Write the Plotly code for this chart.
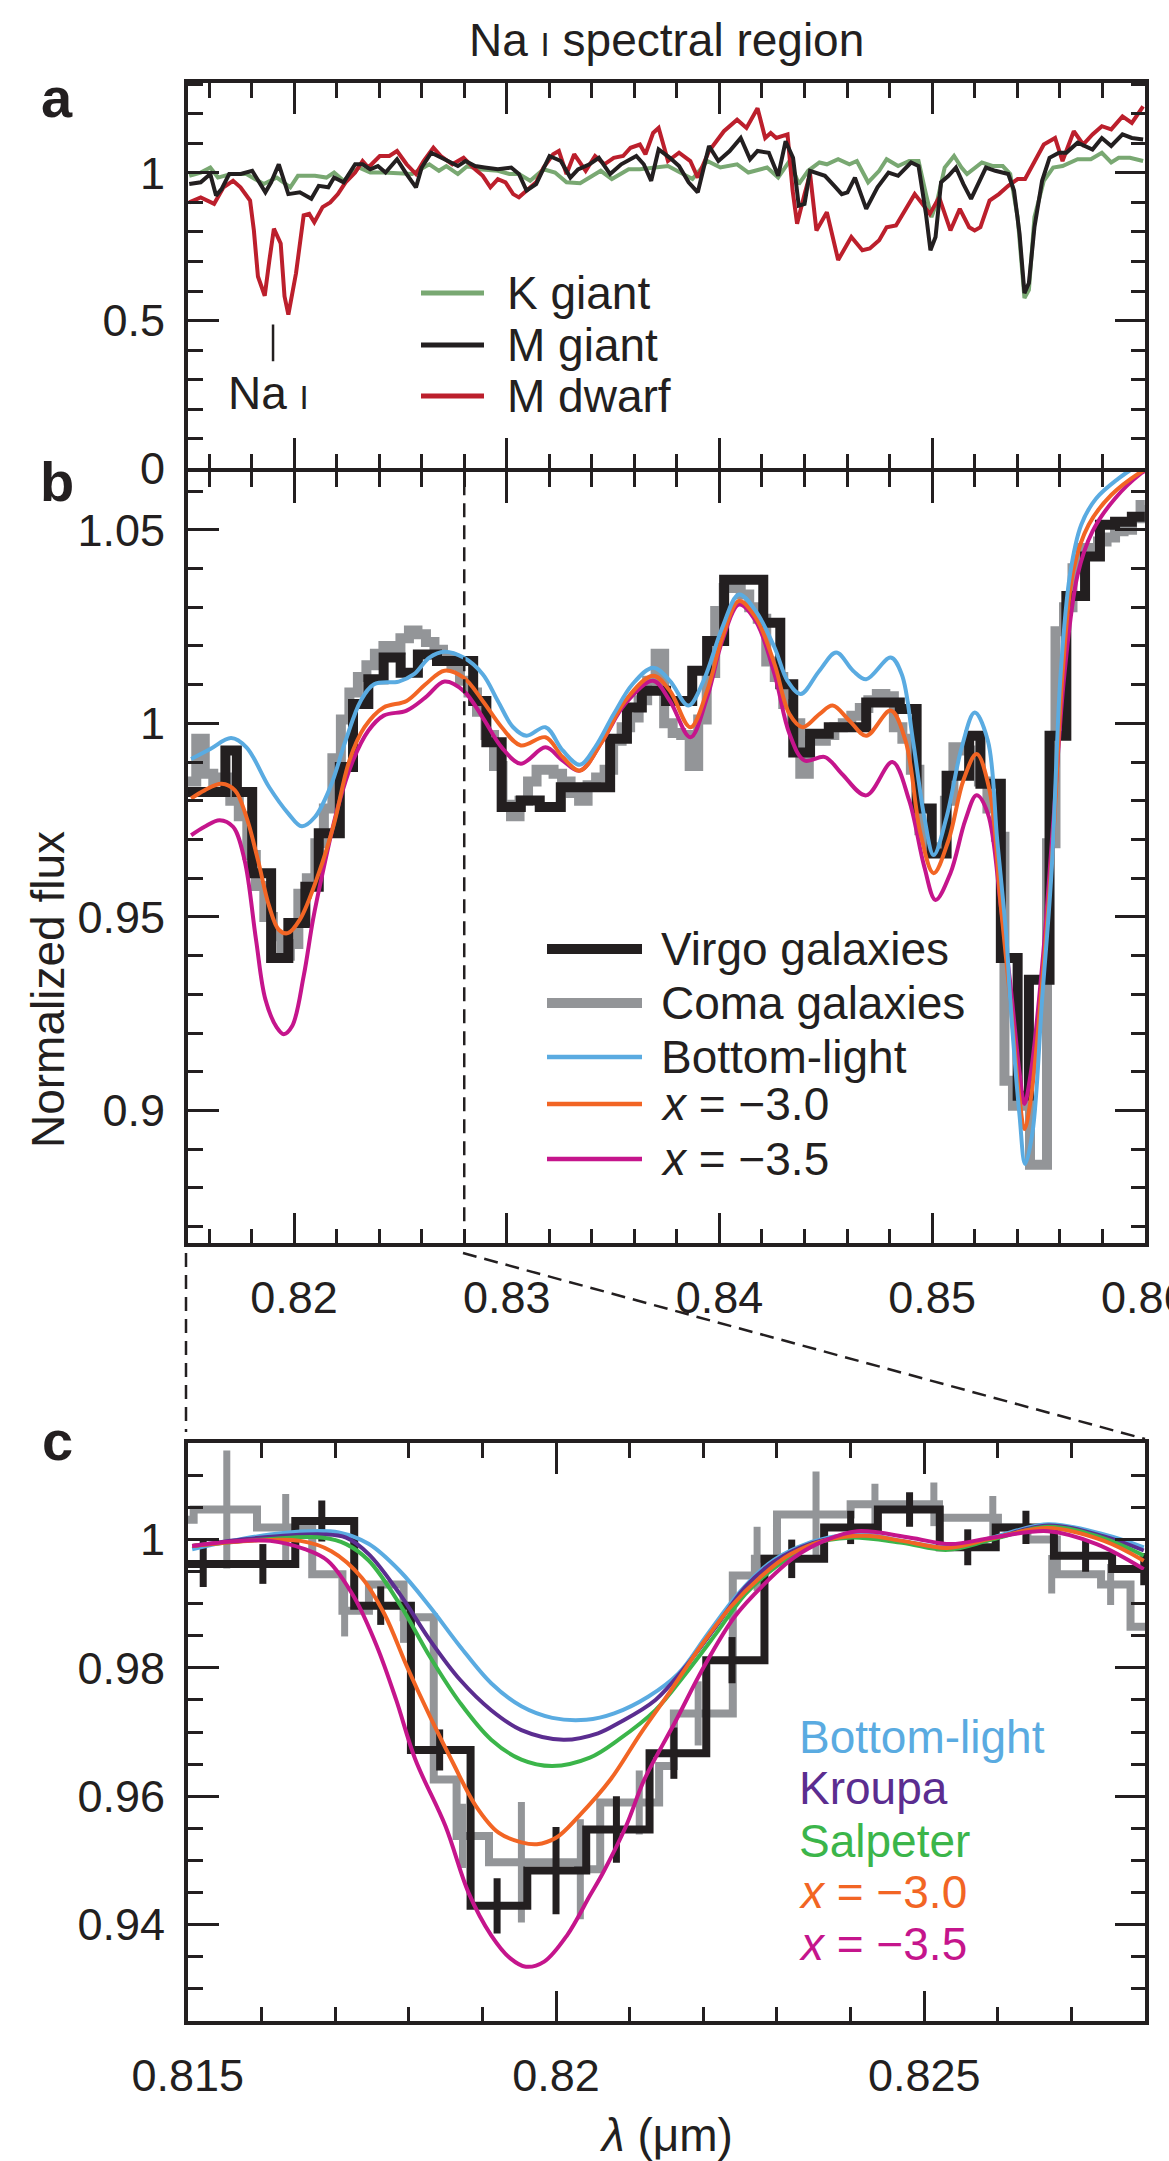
import plotly.graph_objects as go

W, H = 1169, 2161
FONT = "Liberation Sans, Arial, Helvetica, sans-serif"
INK = "#231f20"
C_KGIANT = "#79a872"
C_MDWARF = "#bc1f2c"
C_COMA = "#939598"
C_BL = "#5aabe1"
C_X30 = "#f26524"
C_X35 = "#c5158c"
C_KROUPA = "#5b2d90"
C_SALP = "#3bb54a"

# ---------------- Panel a : stellar spectra (wavelength um, normalized flux)
K_GIANT = [(0.81507,0.990),(0.81561,1.001),(0.81606,1.018),(0.81642,0.984),(0.81704,0.996),(0.81776,0.996),
    (0.81857,0.962),(0.81919,0.984),(0.81982,0.951),(0.82018,0.990),(0.82098,0.990),(0.82152,0.984),(0.82188,1.001),
    (0.82233,0.973),(0.82304,1.018),(0.82358,1.001),(0.82421,1.001),(0.82555,0.996),(0.82636,1.029),(0.82681,1.007),
    (0.82716,1.023),(0.8277,0.996),(0.82815,1.023),(0.82869,1.012),(0.82958,1.007),(0.83012,0.996),(0.83057,0.996),
    (0.8311,0.973),(0.83173,1.012),(0.83227,1.001),(0.83281,0.968),(0.83345,0.965),(0.83442,1.007),(0.83494,0.979),
    (0.83573,1.012),(0.83626,1.012),(0.83758,1.023),(0.83802,1.007),(0.83873,0.979),(0.83943,1.040),(0.84004,1.018),
    (0.84083,1.029),(0.84136,1.001),(0.84224,1.018),(0.84276,0.984),(0.84329,1.040),(0.84373,0.962),(0.84417,1.007),
    (0.8447,1.035),(0.84505,1.029),(0.84558,1.046),(0.84611,1.029),(0.84646,1.040),(0.84699,0.968),(0.84751,1.007),
    (0.84786,1.046),(0.8484,1.023),(0.84892,1.040),(0.84936,1.040),(0.84971,0.928),(0.84997,0.850),(0.85024,0.906),
    (0.85059,1.018),(0.85103,1.057),(0.85138,1.018),(0.85164,0.996),(0.85234,1.035),(0.85287,1.023),(0.85332,1.023),
    (0.85367,0.996),(0.85402,0.850),(0.85434,0.576),(0.85455,0.604),(0.85481,0.850),(0.85525,0.973),(0.85569,1.018),
    (0.85613,1.023),(0.85684,1.046),(0.85746,1.046),(0.85798,1.068),(0.85842,1.035),(0.85877,1.051),(0.8593,1.051),
    (0.85992,1.040)]

M_GIANT = [(0.81507,0.962),(0.81561,0.968),(0.81606,0.996),(0.81633,0.923),(0.81659,0.945),(0.81695,0.996),
    (0.81749,0.996),(0.81803,1.007),(0.81865,0.934),(0.81892,0.968),(0.81928,1.029),(0.81973,0.928),(0.82027,0.934),
    (0.82081,0.912),(0.82116,0.956),(0.82161,0.951),(0.82188,0.984),(0.82233,0.968),(0.82287,1.029),(0.82322,1.029),
    (0.82358,1.012),(0.82394,1.023),(0.8243,1.001),(0.82484,1.046),(0.82529,0.996),(0.82573,0.951),(0.826,1.018),
    (0.82645,1.068),(0.82707,1.046),(0.8277,1.023),(0.82806,1.040),(0.82851,1.023),(0.82896,1.018),(0.82958,1.012),
    (0.83021,1.018),(0.83057,0.996),(0.83093,0.940),(0.83138,0.962),(0.83201,1.057),(0.83254,1.040),(0.83299,0.984),
    (0.83335,1.012),(0.83389,1.029),(0.83433,1.051),(0.83486,0.996),(0.83538,1.029),(0.83609,1.057),(0.83644,1.029),
    (0.83679,0.973),(0.83714,1.079),(0.83767,1.051),(0.8381,1.023),(0.83855,0.968),(0.83898,0.934),(0.83951,1.091),
    (0.83995,1.040),(0.84048,1.074),(0.841,1.118),(0.84144,1.046),(0.84179,1.074),(0.84232,1.068),(0.84276,0.990),
    (0.84311,1.107),(0.84346,1.051),(0.84373,0.889),(0.844,0.895),(0.84426,1.007),(0.84496,0.990),(0.8454,0.956),
    (0.84575,0.928),(0.84602,0.934),(0.84637,0.984),(0.8469,0.878),(0.84743,0.951),(0.84795,1.001),(0.8484,0.990),
    (0.84901,1.035),(0.84936,1.023),(0.84971,0.861),(0.84992,0.738),(0.85016,0.783),(0.85042,0.968),(0.85077,0.990),
    (0.85112,1.018),(0.85147,0.962),(0.85183,0.912),(0.85253,1.018),(0.85297,1.007),(0.85358,0.996),(0.85385,0.940),
    (0.85411,0.794),(0.85434,0.593),(0.85455,0.627),(0.85481,0.816),(0.85517,0.973),(0.85552,1.051),(0.85596,1.068),
    (0.85631,1.068),(0.85684,1.102),(0.85754,1.079),(0.85798,1.118),(0.85842,1.091),(0.85895,1.130),(0.85939,1.118),
    (0.85992,1.113)]

M_DWARF = [(0.81507,0.900),(0.81561,0.917),(0.81624,0.895),(0.81668,0.951),(0.81713,0.973),(0.81748,0.951),
    (0.81793,0.906),(0.81811,0.805),(0.8183,0.649),(0.81862,0.584),(0.81884,0.705),(0.81905,0.811),(0.81937,0.761),
    (0.81955,0.582),(0.81973,0.520),(0.82009,0.660),(0.82045,0.856),(0.82071,0.861),(0.82095,0.833),(0.82134,0.884),
    (0.8217,0.900),(0.82206,0.928),(0.82242,0.968),(0.82287,1.001),(0.82322,1.040),(0.82349,1.018),(0.82403,1.057),
    (0.82448,1.057),(0.82484,1.074),(0.82529,1.029),(0.82573,0.996),(0.82609,1.040),(0.82655,1.085),(0.8269,1.057),
    (0.82744,1.029),(0.82797,1.051),(0.82851,1.012),(0.82887,0.990),(0.82923,0.951),(0.82958,0.979),(0.82994,0.968),
    (0.8303,0.928),(0.83057,0.917),(0.83093,0.940),(0.83138,0.968),(0.83173,1.018),(0.83218,1.063),(0.83245,1.074),
    (0.83281,0.996),(0.83317,1.063),(0.83352,1.029),(0.83371,1.007),(0.83415,1.057),(0.83459,1.029),(0.83503,1.051),
    (0.83547,1.057),(0.83582,1.085),(0.83626,1.096),(0.83652,1.063),(0.83688,1.135),(0.83714,1.152),(0.83758,1.040),
    (0.8381,1.068),(0.83863,1.040),(0.83898,0.984),(0.83951,1.074),(0.84021,1.141),(0.84083,1.180),(0.84127,1.152),
    (0.84179,1.219),(0.84215,1.118),(0.84241,1.135),(0.84267,1.118),(0.8432,1.130),(0.84344,0.940),(0.84365,0.828),
    (0.844,0.928),(0.84426,0.996),(0.84456,0.805),(0.84505,0.867),(0.84558,0.705),(0.8462,0.783),(0.84672,0.738),
    (0.84707,0.744),(0.84751,0.772),(0.84786,0.816),(0.8483,0.822),(0.84874,0.872),(0.84918,0.928),(0.84954,0.895),
    (0.84989,0.861),(0.85033,0.917),(0.85086,0.805),(0.8513,0.878),(0.85174,0.816),(0.852,0.805),(0.85227,0.816),
    (0.8527,0.906),(0.85314,0.928),(0.85358,0.956),(0.85402,0.979),(0.85437,0.979),(0.85481,1.040),(0.85525,1.096),
    (0.85578,1.118),(0.85613,1.040),(0.85666,1.141),(0.8571,1.096),(0.85754,1.130),(0.85798,1.158),(0.85842,1.147),
    (0.85895,1.191),(0.85939,1.169),(0.85992,1.225)]

# ---------------- Panel b : galaxy spectra (stairs: left bin edge, value) and models
B_RIGHT = 0.860
VIRGO_B = [(0.815,0.9823),(0.81677,0.9930),(0.81731,0.9823),(0.81803,0.9613),(0.81892,0.9394),(0.81973,0.9484),
    (0.82053,0.9578),(0.82116,0.9716),(0.82215,0.9887),(0.82277,1.0050),(0.82349,1.0114),(0.82421,1.0170),
    (0.82501,1.0131),(0.82582,1.0178),(0.82672,1.0161),(0.82842,1.0058),(0.82904,0.9951),(0.82976,0.9784),
    (0.83066,0.9801),(0.83155,0.9784),(0.83254,0.9835),(0.83486,0.9960),(0.83565,1.0041),(0.83635,1.0084),
    (0.83749,1.0058),(0.83872,1.0136),(0.83942,1.0213),(0.84022,1.0371),(0.84206,1.0260),(0.84286,1.0101),
    (0.84347,0.9925),(0.84426,0.9973),(0.84514,0.9990),(0.8469,1.0054),(0.84848,1.0037),(0.84927,0.9780),
    (0.84998,0.9664),(0.85068,0.9865),(0.85174,0.9968),(0.85227,0.9844),(0.85323,0.9394),(0.85402,0.9038),
    (0.85455,0.9338),(0.85552,0.9968),(0.85631,1.0329),(0.85719,1.0431),(0.85789,1.0513),(0.8586,1.0521),
    (0.85939,1.0534)]

COMA_B = [(0.8150,0.9850),(0.8154,0.9960),(0.8158,0.9870),(0.8162,0.9850),(0.8166,0.9860),(0.8170,0.9800),
    (0.8174,0.9760),(0.8178,0.9660),(0.8182,0.9580),(0.8186,0.9500),(0.8190,0.9450),(0.8194,0.9400),(0.8198,0.9430),
    (0.8202,0.9560),(0.8206,0.9600),(0.8210,0.9690),(0.8214,0.9780),(0.8218,0.9910),(0.8222,1.0010),(0.8226,1.0080),
    (0.8230,1.0120),(0.8234,1.0150),(0.8238,1.0180),(0.8242,1.0200),(0.8246,1.0190),(0.8250,1.0220),(0.8254,1.0240),
    (0.8258,1.0230),(0.8262,1.0210),(0.8266,1.0190),(0.8270,1.0170),(0.8274,1.0150),(0.8278,1.0110),(0.8282,1.0080),
    (0.8286,1.0030),(0.8290,0.9970),(0.8294,0.9890),(0.8298,0.9790),(0.8302,0.9760),(0.8306,0.9800),(0.8310,0.9850),
    (0.8314,0.9880),(0.8318,0.9880),(0.8322,0.9870),(0.8326,0.9850),(0.8330,0.9820),(0.8334,0.9800),(0.8338,0.9840),
    (0.8342,0.9860),(0.8346,0.9880),(0.8350,0.9955),(0.8354,0.9990),(0.8358,1.0015),(0.8362,1.0060),(0.8366,1.0110),
    (0.8370,1.0180),(0.8374,1.0000),(0.8378,0.9975),(0.8382,0.9970),(0.8386,0.9890),(0.8390,1.0010),(0.8394,1.0130),
    (0.8398,1.0290),(0.8402,1.0350),(0.8406,1.0350),(0.8410,1.0333),(0.8414,1.0300),(0.8418,1.0270),(0.8422,1.0160),
    (0.8426,1.0120),(0.8430,1.0050),(0.8434,1.0000),(0.8438,0.9870),(0.8442,0.9955),(0.8446,0.9955),(0.8450,0.9970),
    (0.8454,0.9990),(0.8458,1.0000),(0.8462,1.0020),(0.8466,1.0040),(0.8470,1.0060),(0.8474,1.0076),(0.8478,1.0070),
    (0.8482,0.9990),(0.8486,0.9960),(0.8490,0.9880),(0.8494,0.9724),(0.8498,0.9680),(0.8502,0.9670),(0.8506,0.9800),
    (0.8510,0.9938),(0.8514,0.9930),(0.8518,0.9900),(0.8522,0.9850),(0.8526,0.9780),(0.8530,0.9707),(0.8534,0.9077),
    (0.8538,0.9012),(0.8542,0.9012),(0.8546,0.8860),(0.8550,0.8860),(0.8554,0.9690),(0.8558,1.0238),(0.8562,1.0300),
    (0.8566,1.0401),(0.8570,1.0453),(0.8574,1.0440),(0.8578,1.0470),(0.8582,1.0480),(0.8586,1.0496),(0.8590,1.0500),
    (0.8594,1.0530),(0.8598,1.0564)]

BL_B = [(0.81516,0.9908),(0.81606,0.9934),(0.81704,0.9962),(0.81776,0.9938),(0.81883,0.9835),(0.81973,0.9767),
    (0.82036,0.9734),(0.82098,0.9758),(0.8217,0.9835),(0.82242,0.9955),(0.82313,1.0058),(0.82376,1.0101),(0.82492,1.0108),
    (0.82564,1.0127),(0.82636,1.0170),(0.82707,1.0185),(0.82797,1.0170),(0.82887,1.0127),(0.82958,1.0058),(0.8303,0.9990),
    (0.83093,0.9968),(0.83182,0.9990),(0.83263,0.9930),(0.83344,0.9893),(0.83415,0.9938),(0.83503,1.0024),(0.83591,1.0101),
    (0.83688,1.0144),(0.83767,1.0110),(0.83854,1.0046),(0.83925,1.0110),(0.84013,1.0247),(0.84092,1.0333),(0.84171,1.0290),
    (0.84259,1.0196),(0.8432,1.0110),(0.84382,1.0076),(0.8447,1.0136),(0.84549,1.0183),(0.84628,1.0136),(0.8469,1.0114),
    (0.84805,1.0170),(0.84857,1.0127),(0.8491,0.9955),(0.84963,0.9758),(0.85007,0.9660),(0.85068,0.9758),(0.85139,0.9938),
    (0.852,1.0028),(0.85262,0.9955),(0.85306,0.9698),(0.8535,0.9441),(0.85367,0.9287),(0.85411,0.8987),(0.85437,0.8862),
    (0.85472,0.8944),(0.85517,0.9287),(0.85561,0.9613),(0.85604,1.0127),(0.85648,1.0384),(0.85701,1.0513),(0.85771,1.0581),
    (0.85877,1.0633),(0.85947,1.0660),(0.86,1.0680)]

X30_B = [(0.81516,0.9806),(0.81579,0.9827),(0.81659,0.9844),(0.81722,0.9827),(0.81776,0.9758),(0.8183,0.9647),
    (0.81883,0.9527),(0.81928,0.9467),(0.8197,0.9458),(0.82027,0.9493),(0.82116,0.9613),(0.82188,0.9741),(0.8226,0.9904),
    (0.82331,0.9990),(0.82421,1.0041),(0.82529,1.0058),(0.82618,1.0101),(0.82707,1.0136),(0.82797,1.0118),(0.82887,1.0058),
    (0.82976,0.9990),(0.83066,0.9943),(0.83182,0.9964),(0.83263,0.9913),(0.83344,0.9878),(0.8345,0.9955),(0.83556,1.0058),
    (0.83688,1.0123),(0.83767,1.0084),(0.83863,0.9990),(0.83942,1.0084),(0.84013,1.0221),(0.84092,1.0316),(0.84171,1.0273),
    (0.84259,1.0153),(0.84329,1.0024),(0.84391,0.9990),(0.8447,1.0024),(0.84532,1.0046),(0.84611,1.0007),(0.8469,0.9968),
    (0.84805,1.0033),(0.84875,0.9955),(0.84945,0.9716),(0.85007,0.9613),(0.85077,0.9698),(0.85147,0.9853),(0.85209,0.9921),
    (0.8527,0.9827),(0.85323,0.9527),(0.85367,0.9287),(0.85411,0.9030),(0.85434,0.8952),(0.85464,0.9030),(0.85517,0.9330),
    (0.85569,0.9698),(0.85613,1.0127),(0.85666,1.0401),(0.85736,1.0513),(0.85842,1.0590),(0.85983,1.0650),(0.86,1.0655)]

X35_B = [(0.81516,0.9711),(0.81579,0.9733),(0.8165,0.9750),(0.81713,0.9733),(0.81767,0.9647),(0.81821,0.9441),
    (0.81865,0.9287),(0.81919,0.9214),(0.81951,0.9197),(0.81991,0.9218),(0.82045,0.9347),(0.82089,0.9493),(0.82134,0.9613),
    (0.82206,0.9784),(0.82277,0.9904),(0.82349,0.9981),(0.82421,1.0020),(0.82529,1.0033),(0.82618,1.0067),(0.82707,1.0108),
    (0.82797,1.0084),(0.82887,1.0015),(0.82976,0.9938),(0.83066,0.9896),(0.83182,0.9938),(0.83263,0.9904),(0.83344,0.9878),
    (0.8345,0.9955),(0.83556,1.0050),(0.83688,1.0110),(0.83767,1.0058),(0.83863,0.9964),(0.83942,1.0067),(0.84013,1.0213),
    (0.84092,1.0307),(0.84171,1.0264),(0.84259,1.0127),(0.84329,0.9973),(0.844,0.9904),(0.84496,0.9913),(0.84575,0.9870),
    (0.8469,0.9814),(0.84813,0.9900),(0.84892,0.9801),(0.84963,0.9630),(0.85016,0.9544),(0.85086,0.9613),(0.85156,0.9750),
    (0.85209,0.9814),(0.85262,0.9767),(0.85323,0.9527),(0.85367,0.9330),(0.85411,0.9098),(0.85434,0.9017),(0.85464,0.9098),
    (0.85517,0.9372),(0.85569,0.9741),(0.85622,1.0127),(0.85684,1.0384),(0.85754,1.0496),(0.8586,1.0581),(0.85983,1.0646),
    (0.86,1.0652)]

# ---------------- Panel c : zoom on the Na I doublet
C_RIGHT = 0.828
VIRGO_C = [(0.815,0.9962),(0.81566,0.9962),(0.81646,1.0029),(0.81726,0.9897),(0.81803,0.9672),(0.81884,0.9429),
    (0.81961,0.9484),(0.82041,0.9548),(0.82127,0.9667),(0.82204,0.9812),(0.82283,0.9970),(0.82364,1.0019),
    (0.82437,1.0047),(0.82521,0.9988),(0.82597,1.0019),(0.82676,0.9975),(0.82755,0.9954)]
VIRGO_C_ERR = [(0.81521,0.9962,0.0036),(0.81602,0.9962,0.0031),(0.81682,1.0029,0.0032),(0.81762,0.9897,0.0030),
    (0.81842,0.9672,0.0032),(0.8192,0.9429,0.0043),(0.82,0.9484,0.0068),(0.82082,0.9548,0.0052),(0.8216,0.9667,0.0040),
    (0.82239,0.9812,0.0036),(0.8232,0.9970,0.0030),(0.824,1.0019,0.0026),(0.8248,1.0047,0.0027),(0.82559,0.9988,0.0028),
    (0.82638,1.0019,0.0026),(0.82719,0.9975,0.0025),(0.82798,0.9954,0.0025)]
COMA_C = [(0.815,1.0031),(0.81508,1.0047),(0.81594,1.0019),(0.81669,0.9946),(0.8171,0.9889),(0.81746,0.9930),
    (0.81793,0.9879),(0.81834,0.9626),(0.81865,0.9538),(0.81909,0.9497),(0.82030,0.9486),(0.82060,0.9590),
    (0.82140,0.9647),(0.82160,0.9729),(0.82240,0.9944),(0.82270,0.9970),(0.82300,1.0039),(0.82400,1.0055),
    (0.82520,1.0034),(0.82600,1.0019),(0.82640,1.0000),(0.82680,0.9946),(0.82740,0.9930),(0.82780,0.9864)]
COMA_C_ERR = [(0.81553,1.0047,0.0092),(0.81633,1.0019,0.0052),(0.81713,0.9889,0.0040),(0.81793,0.9879,0.0040),
    (0.81873,0.9538,0.0050),(0.81953,0.9497,0.0094),(0.82033,0.9486,0.0078),(0.82113,0.9590,0.0050),
    (0.82193,0.9729,0.0050),(0.82273,0.9970,0.0050),(0.82353,1.0039,0.0067),(0.82433,1.0055,0.0032),
    (0.82513,1.0055,0.0034),(0.82593,1.0034,0.0034),(0.82673,0.9946,0.0030),(0.82753,0.9930,0.0032)]

BL_C = [(0.81506,0.9985),(0.8156,0.9998),(0.81612,1.0008),(0.81664,1.0013),(0.81705,1.0011),(0.81746,0.9993),
    (0.81788,0.9951),(0.81829,0.9895),(0.8187,0.9833),(0.81912,0.9776),(0.81953,0.9740),(0.81995,0.9722),(0.82041,0.9719),
    (0.82079,0.9729),(0.82125,0.9755),(0.82166,0.9791),(0.82206,0.9853),(0.82247,0.9915),(0.82288,0.9962),(0.82328,0.9988),
    (0.82369,1.0003),(0.8242,1.0008),(0.8247,0.9998),(0.82531,0.9988),(0.82592,1.0003),(0.82668,1.0024),(0.82744,1.0008),
    (0.82798,0.9988)]
KROUPA_C = [(0.81506,0.9990),(0.81581,1.0001),(0.81684,1.0008),(0.81715,1.0003),(0.81746,0.9977),(0.81788,0.9915),
    (0.81829,0.9843),(0.8187,0.9781),(0.81912,0.9734),(0.81953,0.9703),(0.8201,0.9688),(0.82057,0.9698),(0.82085,0.9714),
    (0.82135,0.9750),(0.82176,0.9802),(0.82217,0.9864),(0.82257,0.9926),(0.82298,0.9967),(0.82349,0.9995),(0.82399,1.0005),
    (0.8247,0.9997),(0.82531,0.9986),(0.82592,1.0001),(0.82668,1.0022),(0.82744,1.0005),(0.82798,0.9983)]
SALP_C = [(0.81506,0.9990),(0.81612,1.0001),(0.81684,1.0003),(0.81715,0.9993),(0.81746,0.9967),(0.81788,0.9899),
    (0.81829,0.9817),(0.8187,0.9745),(0.81912,0.9688),(0.81953,0.9657),(0.81995,0.9647),(0.82046,0.9660),(0.82085,0.9688),
    (0.82135,0.9734),(0.82176,0.9791),(0.82217,0.9853),(0.82257,0.9915),(0.82298,0.9957),(0.82349,0.9993),(0.82399,1.0003),
    (0.8247,0.9995),(0.82531,0.9984),(0.82592,1.0000),(0.82668,1.0020),(0.82744,1.0002),(0.82798,0.9975)]
X30_C = [(0.81506,0.9990),(0.81581,0.9998),(0.81653,0.9998),(0.81695,0.9982),(0.81736,0.9941),(0.81767,0.9884),
    (0.81798,0.9801),(0.81829,0.9724),(0.8186,0.9652),(0.81891,0.9585),(0.81922,0.9543),(0.81953,0.9528),(0.81974,0.9525),
    (0.82,0.9535),(0.82031,0.9569),(0.82074,0.9626),(0.82115,0.9698),(0.82156,0.9765),(0.82196,0.9833),(0.82237,0.9895),
    (0.82277,0.9941),(0.82318,0.9977),(0.82369,1.0000),(0.8242,1.0006),(0.8247,0.9998),(0.82531,0.9987),(0.82592,1.0002),
    (0.82668,1.0018),(0.82744,0.9998),(0.82798,0.9967)]
X35_C = [(0.81506,0.9990),(0.8156,0.9997),(0.81612,0.9998),(0.81659,0.9985),(0.8169,0.9967),(0.81726,0.9910),
    (0.81757,0.9833),(0.81783,0.9750),(0.81809,0.9657),(0.8185,0.9553),(0.81881,0.9450),(0.81912,0.9383),(0.81938,0.9347),
    (0.81959,0.9334),(0.81984,0.9342),(0.82015,0.9383),(0.82046,0.9445),(0.82064,0.9481),(0.82095,0.9553),(0.8212,0.9626),
    (0.82161,0.9714),(0.82201,0.9802),(0.82242,0.9879),(0.82283,0.9931),(0.82323,0.9972),(0.82364,0.9998),(0.82409,1.0013),
    (0.82481,1.0003),(0.82536,0.9993),(0.82592,1.0003),(0.82668,1.0013),(0.82734,0.9993),(0.82798,0.9954)]

NA_LINE_WL = 0.81901


def unzip(pairs):
    return [p[0] for p in pairs], [p[1] for p in pairs]


def stairs(pairs, right):
    xs = [p[0] for p in pairs] + [right]
    ys = [p[1] for p in pairs] + [pairs[-1][1]]
    return xs, ys


def px(x):
    return x / W


def py(y):
    return 1 - y / H


fig = go.Figure()


def line(pairs, color, width, xa, ya, shape="linear", name=None):
    x, y = unzip(pairs)
    fig.add_trace(go.Scatter(x=x, y=y, mode="lines", line=dict(color=color, width=width, shape=shape),
                             xaxis=xa, yaxis=ya, showlegend=False, name=name, hoverinfo="skip"))


def stair(pairs, right, color, width, xa, ya, name=None):
    x, y = stairs(pairs, right)
    fig.add_trace(go.Scatter(x=x, y=y, mode="lines", line=dict(color=color, width=width, shape="hv"),
                             xaxis=xa, yaxis=ya, showlegend=False, name=name, hoverinfo="skip"))


def errs(triples, color, thick, xa, ya):
    fig.add_trace(go.Scatter(x=[t[0] for t in triples], y=[t[1] for t in triples], mode="markers",
                             marker=dict(size=1, color="rgba(0,0,0,0)"),
                             error_y=dict(type="data", array=[t[2] for t in triples], visible=True,
                                          color=color, thickness=thick, width=0),
                             xaxis=xa, yaxis=ya, showlegend=False, hoverinfo="skip"))


# panel a
line(K_GIANT, C_KGIANT, 4, "x", "y", name="K giant")
line(M_DWARF, C_MDWARF, 4, "x", "y", name="M dwarf")
line(M_GIANT, INK, 4, "x", "y", name="M giant")
# panel b
stair(COMA_B, B_RIGHT, C_COMA, 10, "x2", "y2", name="Coma galaxies")
stair(VIRGO_B, B_RIGHT, INK, 10, "x2", "y2", name="Virgo galaxies")
line(X35_B, C_X35, 4, "x2", "y2", "spline", name="x = -3.5")
line(X30_B, C_X30, 4, "x2", "y2", "spline", name="x = -3.0")
line(BL_B, C_BL, 4, "x2", "y2", "spline", name="Bottom-light")
# panel c
stair(COMA_C, C_RIGHT, C_COMA, 8, "x3", "y3", name="Coma galaxies")
errs(COMA_C_ERR, C_COMA, 7, "x3", "y3")
stair(VIRGO_C, C_RIGHT, INK, 8, "x3", "y3", name="Virgo galaxies")
errs(VIRGO_C_ERR, INK, 7, "x3", "y3")
line(BL_C, C_BL, 4, "x3", "y3", "spline", name="Bottom-light")
line(KROUPA_C, C_KROUPA, 4, "x3", "y3", "spline", name="Kroupa")
line(SALP_C, C_SALP, 4, "x3", "y3", "spline", name="Salpeter")
line(X30_C, C_X30, 4, "x3", "y3", "spline", name="x = -3.0")
line(X35_C, C_X35, 4, "x3", "y3", "spline", name="x = -3.5")

TXT = 46
TICKFONT = dict(family=FONT, size=45, color=INK)
LW = 3.5
HALF = LW / 2


def axis(rng, dtick, minor_dtick, domain, anchor, labels=True, standoff=12):
    return dict(range=rng, domain=domain, anchor=anchor, showline=True, linecolor=INK, linewidth=LW,
                mirror="ticks", ticks="inside", ticklen=31, tickwidth=3, tickcolor=INK,
                tick0=0, dtick=dtick, showgrid=False, zeroline=False, showticklabels=labels,
                tickfont=TICKFONT, ticklabelstandoff=standoff, automargin=False,
                ticklabeloverflow="allow",
                minor=dict(ticks="inside", ticklen=15, tickwidth=3, tickcolor=INK, tick0=0,
                           dtick=minor_dtick, showgrid=False))


def ydom(top, bottom):
    return [py(bottom - HALF), py(top + HALF)]


XD = [px(186 + HALF), px(1147 - HALF)]
fig.update_layout(
    width=W, height=H, margin=dict(l=0, r=0, t=0, b=0), paper_bgcolor="white", plot_bgcolor="white",
    showlegend=False,
    xaxis=axis([0.815, 0.86002], 0.01, 0.002, XD, "y", labels=False),
    yaxis=axis([0, 1.305], 0.5, 0.1, ydom(81, 470), "x", standoff=10),
    xaxis2=axis([0.815, 0.86002], 0.01, 0.002, XD, "y2", standoff=12),
    yaxis2=axis([0.8657, 1.065], 0.05, 0.01, ydom(470, 1245), "x2", standoff=10),
    xaxis3=axis([0.815, 0.828], 0.005, 0.001, XD, "y3", standoff=12),
    yaxis3=axis([0.9249, 1.0151], 0.02, 0.005, ydom(1441, 2023), "x3", standoff=10),
)

shapes = []
DASH = "14px,8px"
# dashed guide in panel b and connectors to panel c
shapes.append(dict(type="line", xref="x2", yref="y2", x0=0.828, x1=0.828, y0=0.8657, y1=1.063,
                   line=dict(color=INK, width=2.5, dash=DASH)))
shapes.append(dict(type="line", xref="paper", yref="paper", x0=px(186), x1=px(186), y0=py(1253), y1=py(1432),
                   line=dict(color=INK, width=2.5, dash=DASH)))
shapes.append(dict(type="line", xref="paper", yref="paper", x0=px(463), x1=px(1145), y0=py(1253), y1=py(1439),
                   line=dict(color=INK, width=2.5, dash=DASH)))
# Na I marker
shapes.append(dict(type="line", xref="x", yref="y", x0=NA_LINE_WL, x1=NA_LINE_WL, y0=0.362, y1=0.487,
                   line=dict(color=INK, width=2.5)))

annotations = []


def text(x, y, s, size=TXT, color=INK, xanchor="left", bold=False, angle=0):
    annotations.append(dict(x=px(x), y=py(y), xref="paper", yref="paper", text=s, showarrow=False,
                            xanchor=xanchor, yanchor="middle", textangle=angle,
                            font=dict(family=FONT, size=size, color=color,
                                      weight="bold" if bold else "normal")))


# panel a legend
LEG_A = [("K giant", C_KGIANT, 293), ("M giant", INK, 345), ("M dwarf", C_MDWARF, 396)]
for name, col, yy in LEG_A:
    shapes.append(dict(type="line", xref="paper", yref="paper", x0=px(421), x1=px(484), y0=py(yy), y1=py(yy),
                       line=dict(color=col, width=5)))
    text(505, yy, name)

# panel b legend
LEG_B = [("Virgo galaxies", INK, 10, 949), ("Coma galaxies", C_COMA, 10, 1003), ("Bottom-light", C_BL, 4.5, 1057),
         ("<i>x</i> = −3.0", C_X30, 4.5, 1104), ("<i>x</i> = −3.5", C_X35, 4.5, 1159)]
for name, col, wdt, yy in LEG_B:
    shapes.append(dict(type="line", xref="paper", yref="paper", x0=px(547), x1=px(642), y0=py(yy), y1=py(yy),
                       line=dict(color=col, width=wdt)))
    text(659, yy, name)

# panel c legend (coloured text)
LEG_C = [("Bottom-light", C_BL, 1737), ("Kroupa", C_KROUPA, 1788), ("Salpeter", C_SALP, 1841),
         ("<i>x</i> = −3.0", C_X30, 1892), ("<i>x</i> = −3.5", C_X35, 1944)]
for name, col, yy in LEG_C:
    text(797, yy, name, color=col)

NA_SMALL = "Na <span style='font-size:33px'>I</span>"
text(268, 393, NA_SMALL, xanchor="center")
text(666, 40, NA_SMALL + " spectral region", size=TXT, xanchor="center")
text(57, 97, "a", size=56, bold=True, xanchor="center")
text(57, 481, "b", size=56, bold=True, xanchor="center")
text(57, 1440, "c", size=56, bold=True, xanchor="center")
text(48, 990, "Normalized flux", angle=-90, xanchor="center")
text(666, 2135, "<i>λ</i> (μm)", xanchor="center")

fig.update_layout(shapes=shapes, annotations=annotations)
fig.write_html("out.html", config={"displayModeBar": False})
